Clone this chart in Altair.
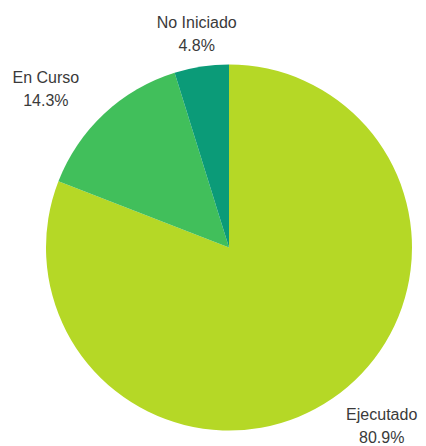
import altair as alt
import pandas as pd

estados = ["Ejecutado", "En Curso", "No Iniciado"]
porcentajes = [80.9, 14.3, 4.8]
orden = [1, 2, 3]
colores = ["#b5d826", "#41bf5b", "#0b9b78"]

df = pd.DataFrame({"estado": estados, "pct": porcentajes, "orden": orden})

color_scale = alt.Scale(domain=estados, range=colores)

arcs = alt.Chart(df).mark_arc(outerRadius=183).encode(
    theta=alt.Theta("pct:Q", stack=True),
    color=alt.Color("estado:N", scale=color_scale, legend=None),
    order=alt.Order("orden:Q"),
)

base_txt = (
    alt.Chart(df)
    .transform_window(cum="sum(pct)", sort=[alt.SortField("orden")])
    .transform_calculate(
        mid="datum.cum - datum.pct / 2",
        label="datum.estado + '\\n' + format(datum.pct, '.1f') + '%'",
    )
)

label_pos = {
    "No Iniciado": (222, 1, 0),
    "En Curso": (245, -16, 15),
    "Ejecutado": (235, 20, -21),
}

layers = [arcs]
for est in estados:
    r, dx, dy = label_pos[est]
    layers.append(
        base_txt.transform_filter(alt.datum.estado == est)
        .mark_text(
            radius=r,
            dx=dx,
            dy=dy,
            align="center",
            baseline="alphabetic",
            lineBreak="\n",
            lineHeight=23,
            font="Liberation Sans",
            fontSize=16,
            color="#3a3a3a",
        )
        .encode(theta=alt.Theta("mid:Q", stack=False), text="label:N")
    )

chart = (
    alt.layer(*layers)
    .properties(
        width=378,
        height=383,
        autosize=alt.AutoSizeParams(type="none"),
        padding={"left": 32, "top": 48, "right": 0, "bottom": 7},
    )
    .configure_view(stroke=None)
)

chart.save("out.html", embed_options={"renderer": "svg", "actions": False})
